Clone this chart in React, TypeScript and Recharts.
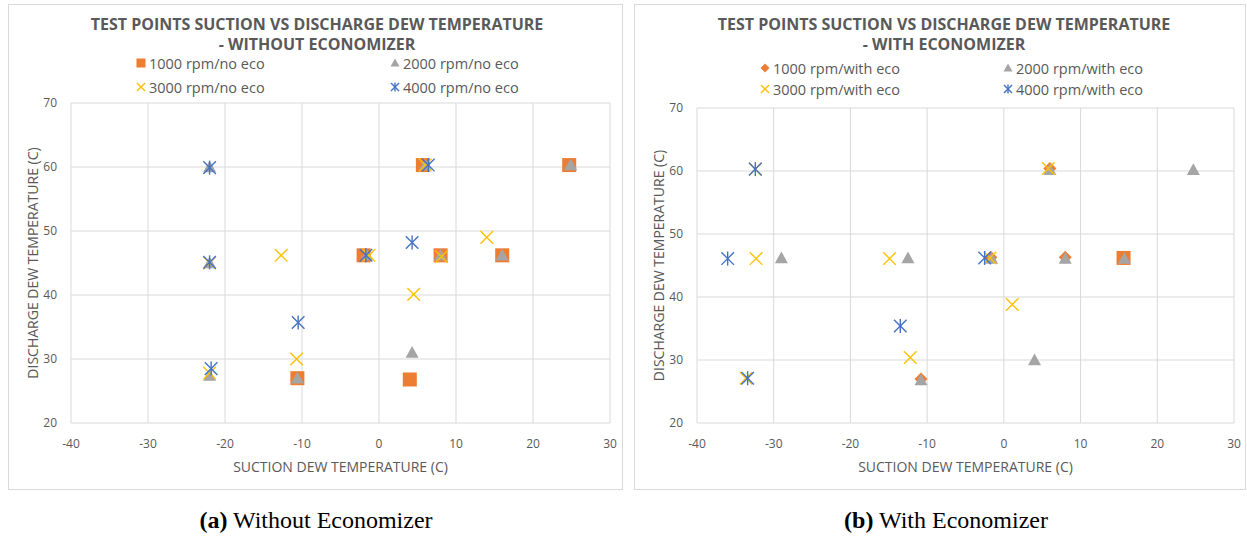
import React from 'react'
import { ScatterChart, Scatter, XAxis, YAxis, CartesianGrid, Legend, Label } from 'recharts'

type Pt = { x: number; y: number }
type Kind = 'square' | 'diamond' | 'triangle' | 'x' | 'star'

const X_TICKS = [-40, -30, -20, -10, 0, 10, 20, 30]
const Y_TICKS = [20, 30, 40, 50, 60, 70]

// left panel: without economizer
const noEco1000: Pt[] = [
  { x: -10.6, y: 27 }, { x: -2, y: 46.2 }, { x: 4, y: 26.8 }, { x: 5.7, y: 60.3 },
  { x: 8, y: 46.2 }, { x: 16, y: 46.2 }, { x: 24.7, y: 60.3 },
]
const noEco2000: Pt[] = [
  { x: -22, y: 60 }, { x: -22, y: 45 }, { x: -22, y: 27.4 }, { x: -10.6, y: 27 },
  { x: -1.6, y: 46.2 }, { x: 4.3, y: 31 }, { x: 6, y: 60.3 }, { x: 8, y: 46.2 },
  { x: 16, y: 46.2 }, { x: 24.9, y: 60.3 },
]
const noEco3000: Pt[] = [
  { x: -22, y: 45 }, { x: -22, y: 27.8 }, { x: -12.7, y: 46.2 }, { x: -10.7, y: 30 },
  { x: -1.3, y: 46.2 }, { x: 4.5, y: 40.1 }, { x: 6, y: 60.3 }, { x: 8.1, y: 46 }, { x: 14, y: 49 },
]
const noEco4000: Pt[] = [
  { x: -22, y: 59.9 }, { x: -22, y: 45.1 }, { x: -21.8, y: 28.5 }, { x: -10.5, y: 35.7 },
  { x: -1.7, y: 46.2 }, { x: 4.3, y: 48.2 }, { x: 6.4, y: 60.3 },
]

// right panel: with economizer
const eco1000: Pt[] = [{ x: -10.8, y: 27 }, { x: -1.7, y: 46.3 }, { x: 6, y: 60.4 }, { x: 8, y: 46.3 }]
const eco1000Square: Pt[] = [{ x: 15.6, y: 46.2 }]
const eco2000: Pt[] = [
  { x: -29, y: 46.2 }, { x: -12.5, y: 46.2 }, { x: -10.8, y: 26.8 }, { x: -1.6, y: 46.1 },
  { x: 4, y: 30 }, { x: 6, y: 60.2 }, { x: 8, y: 46.1 }, { x: 15.7, y: 46.1 }, { x: 24.7, y: 60.2 },
]
const eco3000: Pt[] = [
  { x: -32.4, y: 60.3 }, { x: -32.3, y: 46.1 }, { x: -33.6, y: 27.1 }, { x: -14.9, y: 46.1 },
  { x: -12.2, y: 30.4 }, { x: -1.8, y: 46.2 }, { x: 1.1, y: 38.8 }, { x: 5.8, y: 60.4 },
]
const eco4000: Pt[] = [
  { x: -32.4, y: 60.3 }, { x: -36, y: 46.1 }, { x: -33.4, y: 27.1 }, { x: -13.5, y: 35.4 }, { x: -2.5, y: 46.2 },
]

const ORANGE = '#ED7D31'
const GRAY = '#A5A5A5'
const YELLOW = '#FFC000'
const BLUE = '#4472C4'
const TXT = '#595959'
const FONT = "'Open Sans', sans-serif"

const KIND: Record<string, Kind> = {
  '1000 rpm/no eco': 'square',
  '2000 rpm/no eco': 'triangle',
  '3000 rpm/no eco': 'x',
  '4000 rpm/no eco': 'star',
  '1000 rpm/with eco': 'diamond',
  '2000 rpm/with eco': 'triangle',
  '3000 rpm/with eco': 'x',
  '4000 rpm/with eco': 'star',
}

function Marker({ kind, cx, cy, size }: { kind: Kind; cx: number; cy: number; size: number }) {
  const h = size / 2
  if (kind === 'square') return <rect x={cx - h} y={cy - h} width={size} height={size} fill={ORANGE} />
  if (kind === 'diamond')
    return <polygon points={`${cx},${cy - h} ${cx + h},${cy} ${cx},${cy + h} ${cx - h},${cy}`} fill={ORANGE} />
  if (kind === 'triangle')
    return <polygon points={`${cx},${cy - h} ${cx + h},${cy + h * 0.8} ${cx - h},${cy + h * 0.8}`} fill={GRAY} />
  const d = h * 0.9
  const c = kind === 'x' ? YELLOW : BLUE
  return (
    <g stroke={c} strokeWidth={1.4} fill="none">
      <line x1={cx - d} y1={cy - d} x2={cx + d} y2={cy + d} />
      <line x1={cx - d} y1={cy + d} x2={cx + d} y2={cy - d} />
      {kind === 'star' && <line x1={cx} y1={cy - h} x2={cx} y2={cy + h} />}
    </g>
  )
}

const shapeOf = (kind: Kind, size: number) => (p: any) => <Marker kind={kind} cx={p.cx} cy={p.cy} size={size} />

function makeLegend(cols: number[], rows: number[]) {
  return ({ payload }: any) => {
    const items = (payload || []).filter((p: any) => KIND[p.value])
    return (
      <div style={{ position: 'relative', width: '100%', height: 0 }}>
        {items.map((p: any, i: number) => (
          <div
            key={p.value}
            style={{
              position: 'absolute', left: cols[i % 2], top: rows[Math.floor(i / 2)] - 10, height: 20,
              display: 'flex', alignItems: 'center', whiteSpace: 'nowrap',
              fontFamily: FONT, fontSize: 14.5, color: TXT,
            }}
          >
            <svg width={10} height={10}>
              <Marker kind={KIND[p.value]} cx={5} cy={5} size={9} />
            </svg>
            <span style={{ marginLeft: 3 }}>{p.value}</span>
          </div>
        ))}
      </div>
    )
  }
}

function YTitle({ viewBox }: any) {
  const cx = viewBox.x + 1
  const cy = viewBox.y + viewBox.height / 2
  return (
    <text x={cx} y={cy} transform={`rotate(-90 ${cx} ${cy})`} textAnchor="middle" dominantBaseline="central"
      fill={TXT} fontSize={14} fontFamily={FONT}>
      DISCHARGE DEW TEMPERATURE (C)
    </text>
  )
}

type S = { name: string; data: Pt[]; kind: Kind; size: number; hidden?: boolean }

function Panel({ left, boxW, title, titleX, series, margin, cols, rows }: {
  left: number; boxW: number; title: string[]; titleX: number; series: S[]
  margin: { top: number; right: number; left: number; bottom: number }; cols: number[]; rows: number[]
}) {
  const tick = { fill: TXT, fontSize: 12, fontFamily: FONT }
  return (
    <div style={{ position: 'absolute', left, top: 4, width: boxW, height: 486, border: '1px solid #d9d9d9', boxSizing: 'border-box' }}>
      <ScatterChart width={boxW - 2} height={484} margin={margin}>
        <CartesianGrid stroke="#d9d9d9" />
        <XAxis type="number" dataKey="x" domain={[-40, 30]} ticks={X_TICKS} axisLine={false} tickLine={false}
          tick={tick} tickMargin={10} height={58} interval={0}>
          <Label value="SUCTION DEW TEMPERATURE (C)" position="insideBottom" offset={9} fill={TXT} fontSize={14} fontFamily={FONT} />
        </XAxis>
        <YAxis type="number" dataKey="y" domain={[20, 70]} ticks={Y_TICKS} axisLine={false} tickLine={false}
          tick={tick} tickMargin={8} width={40} interval={0}>
          <Label content={<YTitle />} />
        </YAxis>
        <Legend verticalAlign="middle" wrapperStyle={{ top: 0, left: 0, width: '100%', height: 0 }} content={makeLegend(cols, rows)} />
        {series.map((s) => (
          <Scatter key={s.name} name={s.name} data={s.data} isAnimationActive={false}
            legendType={s.hidden ? 'none' : 'square'} shape={shapeOf(s.kind, s.size)} />
        ))}
      </ScatterChart>
      <div style={{ position: 'absolute', left: titleX - 300, width: 600, top: 9, textAlign: 'center', fontFamily: FONT,
        fontWeight: 700, fontSize: 16, lineHeight: '20px', color: TXT }}>
        {title.map((t) => <div key={t}>{t}</div>)}
      </div>
    </div>
  )
}

export default function App() {
  const capStyle: React.CSSProperties = {
    position: 'absolute', top: 506, width: 400, textAlign: 'center', fontFamily: "'Liberation Serif', 'Times New Roman', serif",
    fontSize: 24, lineHeight: '28px', color: '#000',
  }
  return (
    <div style={{ position: 'absolute', left: 0, top: 0, width: 1247, height: 537, background: '#fff' }}>
      <Panel
        left={8} boxW={615} titleX={308}
        title={['TEST POINTS SUCTION VS DISCHARGE DEW TEMPERATURE', '- WITHOUT ECONOMIZER']}
        margin={{ top: 98, right: 12, left: 22, bottom: 8 }}
        cols={[127, 381]} rows={[58, 82]}
        series={[
          { name: '1000 rpm/no eco', data: noEco1000, kind: 'square', size: 14 },
          { name: '2000 rpm/no eco', data: noEco2000, kind: 'triangle', size: 13 },
          { name: '3000 rpm/no eco', data: noEco3000, kind: 'x', size: 14 },
          { name: '4000 rpm/no eco', data: noEco4000, kind: 'star', size: 14 },
        ]}
      />
      <Panel
        left={634} boxW={612} titleX={309}
        title={['TEST POINTS SUCTION VS DISCHARGE DEW TEMPERATURE', '- WITH ECONOMIZER']}
        margin={{ top: 103, right: 11, left: 22, bottom: 8 }}
        cols={[125, 368]} rows={[63, 84]}
        series={[
          { name: 'eco1000Square', data: eco1000Square, kind: 'square', size: 14, hidden: true },
          { name: '1000 rpm/with eco', data: eco1000, kind: 'diamond', size: 13 },
          { name: '2000 rpm/with eco', data: eco2000, kind: 'triangle', size: 13 },
          { name: '3000 rpm/with eco', data: eco3000, kind: 'x', size: 14 },
          { name: '4000 rpm/with eco', data: eco4000, kind: 'star', size: 14 },
        ]}
      />
      <div style={{ ...capStyle, left: 116 }}><b>(a)</b> Without Economizer</div>
      <div style={{ ...capStyle, left: 746 }}><b>(b)</b> With Economizer</div>
    </div>
  )
}
